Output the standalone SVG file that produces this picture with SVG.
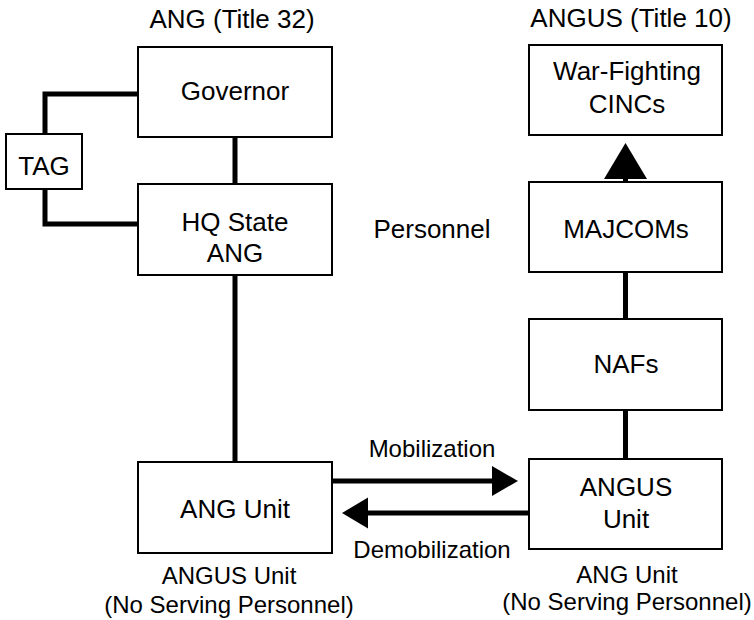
<svg xmlns="http://www.w3.org/2000/svg" width="754" height="620" viewBox="0 0 754 620">
<style>
.box{fill:#fff;stroke:#000;stroke-width:2}
.t{font-family:"Liberation Sans",Arial,Helvetica,sans-serif;font-size:26px;text-anchor:middle;fill:#000}
.s{font-family:"Liberation Sans",Arial,Helvetica,sans-serif;font-size:24px;text-anchor:middle;fill:#000}
.c{fill:none;stroke:#000;stroke-width:5}
.ah{fill:#000;stroke:none}
</style>
<rect width="754" height="620" fill="#fff"/>
<g id="connectors">
<path class="c" d="M138 94 H45 V134"/>
<path class="c" d="M45 189 V224 H138"/>
<path class="c" d="M235 137 V184"/>
<path class="c" d="M235 275 V462"/>
<path class="c" d="M625.5 182 V176"/>
<polygon class="ah" points="604,179 647,179 625.5,143"/>
<path class="c" d="M625.5 272 V319"/>
<path class="c" d="M625.5 410 V459"/>
<path class="c" d="M332 481 H495"/>
<polygon class="ah" points="492,466 518,481 492,496"/>
<path class="c" d="M529 513 H365"/>
<polygon class="ah" points="368,497.5 342,513 368,528.5"/>
</g>
<g id="title-ang"><text class="t" x="232" y="28">ANG (Title 32)</text></g>
<g id="title-angus"><text class="t" x="631" y="27">ANGUS (Title 10)</text></g>
<g id="governor"><rect class="box" x="138" y="47" width="194" height="90"/><text class="t" x="235" y="100">Governor</text></g>
<g id="tag"><rect class="box" x="6" y="134" width="76" height="55"/><text class="t" x="44" y="175">TAG</text></g>
<g id="hq-state-ang"><rect class="box" x="138" y="184" width="194" height="91"/><text class="t" x="235" y="231">HQ State</text><text class="t" x="235" y="262">ANG</text></g>
<g id="ang-unit"><rect class="box" x="138" y="462" width="194" height="91"/><text class="t" x="235" y="518">ANG Unit</text></g>
<g id="ang-unit-label"><text class="s" x="229" y="584">ANGUS Unit</text><text class="s" x="229" y="613">(No Serving Personnel)</text></g>
<g id="war-fighting-cincs"><rect class="box" x="529" y="45" width="193" height="90"/><text class="t" x="627" y="80">War-Fighting</text><text class="t" x="627" y="113">CINCs</text></g>
<g id="personnel"><text class="t" x="432" y="238">Personnel</text></g>
<g id="majcoms"><rect class="box" x="529" y="182" width="193" height="90"/><text class="t" x="626" y="238">MAJCOMs</text></g>
<g id="nafs"><rect class="box" x="529" y="319" width="193" height="91"/><text class="t" x="626" y="373">NAFs</text></g>
<g id="angus-unit"><rect class="box" x="529" y="459" width="193" height="90"/><text class="t" x="626" y="496">ANGUS</text><text class="t" x="626" y="528">Unit</text></g>
<g id="angus-unit-label"><text class="s" x="627" y="583">ANG Unit</text><text class="s" x="627" y="610">(No Serving Personnel)</text></g>
<g id="mobilization"><text class="s" x="432" y="457">Mobilization</text></g>
<g id="demobilization"><text class="s" x="432" y="558">Demobilization</text></g>
</svg>
